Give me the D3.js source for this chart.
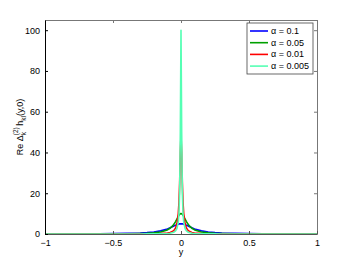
<!DOCTYPE html>
<html>
<head>
<meta charset="utf-8">
<script src="https://cdn.jsdelivr.net/npm/d3@7"></script>
<style>
  body { margin: 0; background: #fff; }
  svg text { font-family: "Liberation Sans", Arial, sans-serif; }
</style>
</head>
<body>
<script>
const yPos = [-1, -0.8, -0.6, -0.5, -0.4, -0.3, -0.25, -0.2, -0.15, -0.1, -0.08, -0.06, -0.05, -0.04, -0.03, -0.02, -0.015, -0.01, -0.005,
  0, 0.005, 0.01, 0.015, 0.02, 0.03, 0.04, 0.05, 0.06, 0.08, 0.1, 0.15, 0.2, 0.25, 0.3, 0.4, 0.5, 0.6, 0.8, 1];

// Re values for each alpha
const alpha01 = [0.05, 0.08, 0.13, 0.19, 0.29, 0.5, 0.69, 1.0, 1.54, 2.5, 3.05, 3.68, 4.0, 4.31, 4.59, 4.81, 4.89, 4.95, 4.99,
  5.0, 4.99, 4.95, 4.89, 4.81, 4.59, 4.31, 4.0, 3.68, 3.05, 2.5, 1.54, 1.0, 0.69, 0.5, 0.29, 0.19, 0.13, 0.08, 0.05];
const alpha005 = [0.03, 0.04, 0.07, 0.1, 0.15, 0.27, 0.38, 0.59, 1.0, 2.0, 2.81, 4.1, 5.0, 6.1, 7.35, 8.62, 9.17, 9.62, 9.9,
  10.0, 9.9, 9.62, 9.17, 8.62, 7.35, 6.1, 5.0, 4.1, 2.81, 2.0, 1.0, 0.59, 0.38, 0.27, 0.15, 0.1, 0.07, 0.04, 0.03];
const alpha001 = [0.005, 0.008, 0.014, 0.02, 0.03, 0.056, 0.08, 0.125, 0.22, 0.5, 0.78, 1.38, 1.92, 2.94, 5.0, 10.0, 15.4, 25.0, 40.0,
  48.5, 40.0, 25.0, 15.4, 10.0, 5.0, 2.94, 1.92, 1.38, 0.78, 0.5, 0.22, 0.125, 0.08, 0.056, 0.03, 0.02, 0.014, 0.008, 0.005];
const alpha0005 = [0.0025, 0.004, 0.007, 0.01, 0.016, 0.028, 0.04, 0.0625, 0.11, 0.25, 0.39, 0.69, 1.0, 1.54, 2.7, 5.88, 10.0, 20.0, 50.0,
  100.0, 50.0, 20.0, 10.0, 5.88, 2.7, 1.54, 1.0, 0.69, 0.39, 0.25, 0.11, 0.0625, 0.04, 0.028, 0.016, 0.01, 0.007, 0.004, 0.0025];

const seriesNames = ["\u03b1 = 0.1", "\u03b1 = 0.05", "\u03b1 = 0.01", "\u03b1 = 0.005"];
const seriesValues = [alpha01, alpha005, alpha001, alpha0005];
const colours = ["#0000ff", "#00a000", "#ff0000", "#55ffb4"];

const xTicks = [-1, -0.5, 0, 0.5, 1];
const yTicks = [0, 20, 40, 60, 80, 100];

const svgWidth = 350;
const svgHeight = 263;
const plotLeft = 45, plotRight = 317, plotTop = 20, plotBottom = 234;

const svg = d3.select("body").append("svg")
  .attr("width", svgWidth)
  .attr("height", svgHeight);

const xScale = d3.scaleLinear().domain([-1, 1]).range([plotLeft, plotRight]);
const yScale = d3.scaleLinear().domain([0, 105]).range([plotBottom, plotTop]);

// plotting the curves, aqua one last so it sits on top
const line = d3.line()
  .x((d, i) => xScale(yPos[i]))
  .y(d => yScale(d));

seriesValues.forEach(function(vals, k) {
  svg.append("path")
    .datum(vals)
    .attr("d", line)
    .attr("fill", "none")
    .attr("stroke", colours[k])
    .attr("stroke-width", 1.6)
    .attr("stroke-linejoin", "round");
});

// axes, ticks pointing inwards like matlab
const fmt = d => d3.format("")(d).replace("-", "\u2212");

const xAxis = d3.axisBottom(xScale).tickValues(xTicks).tickSizeInner(-3).tickSizeOuter(0).tickPadding(6).tickFormat(fmt);
const xAxisTop = d3.axisTop(xScale).tickValues(xTicks).tickSizeInner(-3).tickSizeOuter(0).tickFormat("");
const yAxis = d3.axisLeft(yScale).tickValues(yTicks).tickSizeInner(-3).tickSizeOuter(0).tickPadding(5).tickFormat(fmt);
const yAxisRight = d3.axisRight(yScale).tickValues(yTicks).tickSizeInner(-3).tickSizeOuter(0).tickFormat("");

function styleAxis(g, col) {
  g.select(".domain").attr("stroke", col);
  g.selectAll(".tick line").attr("stroke", col);
  g.selectAll(".tick text").attr("fill", "#000").style("font-size", "9px");
}

svg.append("g").attr("transform", "translate(0," + plotTop + ")").call(xAxisTop).call(styleAxis, "#777");
svg.append("g").attr("transform", "translate(" + plotRight + ",0)").call(yAxisRight).call(styleAxis, "#777");
svg.append("g").attr("transform", "translate(0," + plotBottom + ")").call(xAxis).call(styleAxis, "#555");
svg.append("g").attr("transform", "translate(" + plotLeft + ",0)").call(yAxis).call(styleAxis, "#000");

// x label
svg.append("text")
  .attr("x", xScale(0))
  .attr("y", 255)
  .attr("text-anchor", "middle")
  .style("font-size", "9px")
  .text("y");

// y label with sub/superscripts, built piece by piece
const yl = svg.append("g").attr("transform", "translate(23,127) rotate(-90)");
let cursor = 0;
function piece(txt, size, dy) {
  const t = yl.append("text").attr("x", cursor).attr("y", dy).style("font-size", size + "px").text(txt);
  return t.node().getComputedTextLength();
}
cursor += piece("Re \u0394", 9, 0);
const w1 = piece("(2)", 6.5, -5);
const w2 = piece("k", 6.5, 3);
cursor += Math.max(w1, w2) + 1.5;
cursor += piece("h", 9, 0);
cursor += piece("kl", 6.5, 3);
cursor += piece("(y,0)", 9, 0);
yl.selectAll("text").attr("x", function() { return +d3.select(this).attr("x") - cursor / 2; });

// legend
const lg = svg.append("g");
lg.append("rect")
  .attr("x", 247).attr("y", 23)
  .attr("width", 66).attr("height", 51)
  .attr("fill", "#fff")
  .attr("stroke", "#444")
  .attr("stroke-width", 0.8);

seriesNames.forEach(function(name, k) {
  const yy = 31 + k * 11.7;
  lg.append("line")
    .attr("x1", 250).attr("x2", 268)
    .attr("y1", yy).attr("y2", yy)
    .attr("stroke", colours[k])
    .attr("stroke-width", 1.6);
  lg.append("text")
    .attr("x", 271).attr("y", yy + 3)
    .style("font-size", "9px")
    .text(name);
});
</script>
</body>
</html>
